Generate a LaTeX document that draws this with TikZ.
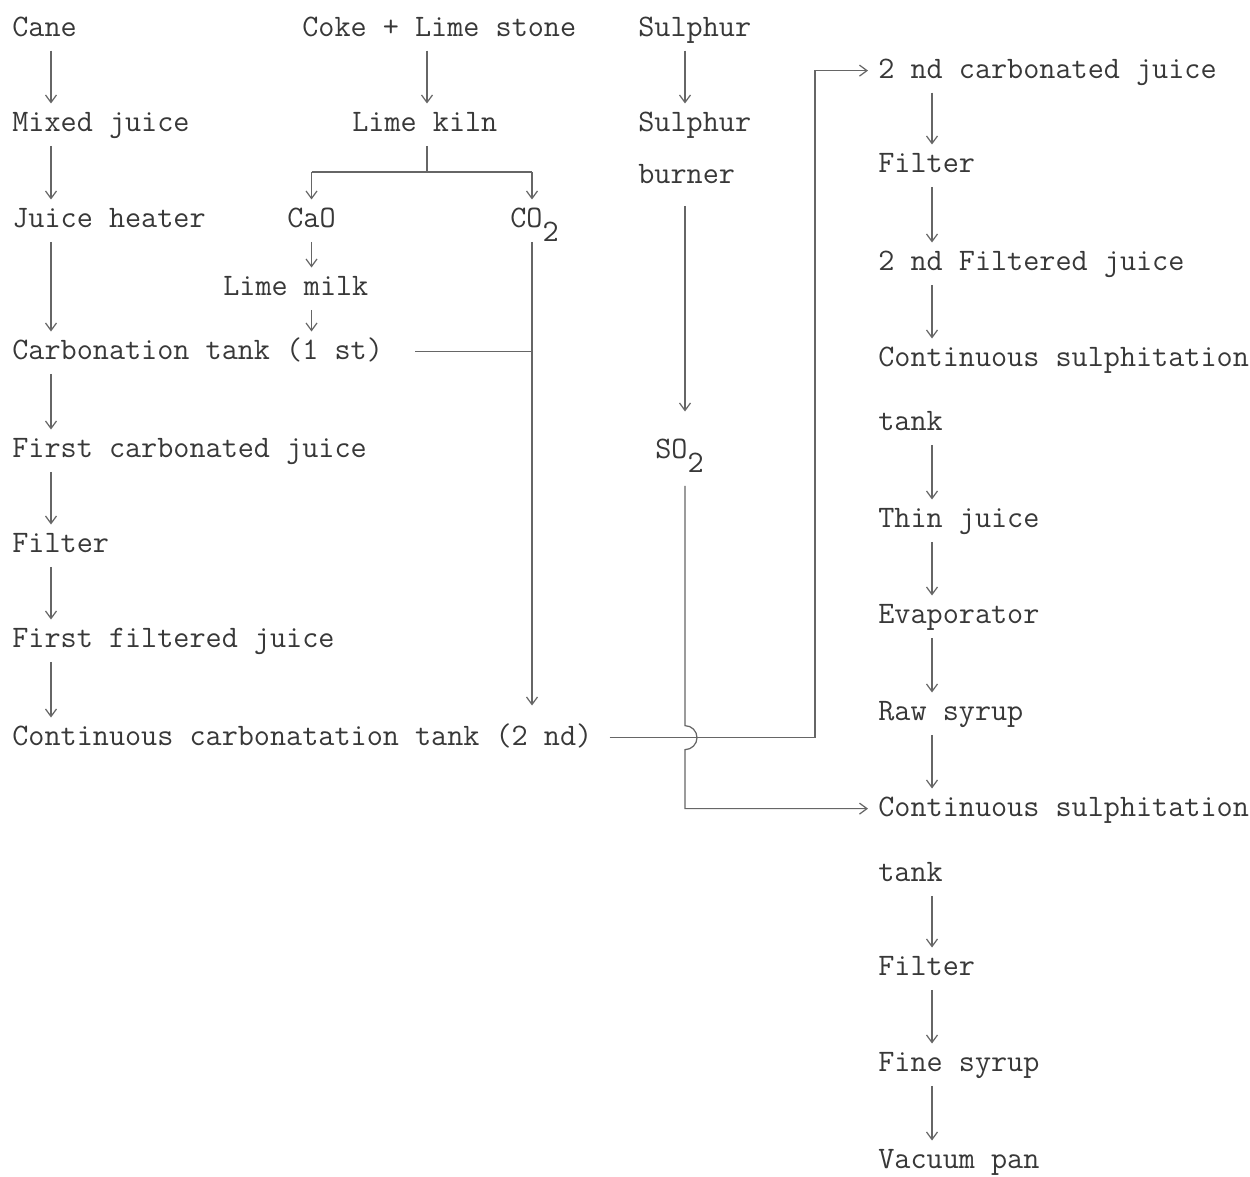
\documentclass[tikz,border=0pt]{standalone}
\usepackage{fontspec}
\usepackage{tikz}
\usetikzlibrary{arrows.meta, calc}

\newcommand{\lowtwo}{\raisebox{-1.1ex}{2}}

\tikzset{
  stage/.style={anchor=base west, inner sep=0pt, text height=10.9pt, text depth=2.5pt,
    font=\ttfamily\fontsize{17.8}{20}\selectfont, text=black!78},
  flow/.style={->, line width=0.7pt, draw=black!60, shorten <=2mm, shorten >=1.6mm},
  link/.style={line width=0.7pt, draw=black!60},
}

\begin{document}
\begin{tikzpicture}[x=0.2mm, y=-0.2mm, >={Straight Barb[length=1.5mm,width=2.2mm]}]
  \useasboundingbox (0,0) rectangle (1250,1176);

  % columns of the arrows
  \coordinate (colA) at (51,0);
  \coordinate (colB) at (427,0);
  \coordinate (colE) at (532,0);
  \coordinate (colC) at (685,0);
  \coordinate (colF) at (815,0);
  \coordinate (colD) at (932,0);

  % Cane line
  \node[stage] (cane) at (12,36) {Cane};
  \node[stage] (mixed) at (12,131) {Mixed juice};
  \node[stage] (heater) at (12,227) {Juice heater};
  \node[stage] (carbI) at (12,359) {Carbonation tank (1 st)};
  \node[stage] (firstcarb) at (12,457) {First carbonated juice};
  \node[stage] (filterI) at (12,552) {Filter};
  \node[stage] (firstfilt) at (12,647) {First filtered juice};
  \node[stage] (carbII) at (12,745) {Continuous carbonatation tank (2 nd)};
  \draw[flow] (cane.south -| colA) -- (mixed.north -| colA);
  \draw[flow] (mixed.south -| colA) -- (heater.north -| colA);
  \draw[flow] (heater.south -| colA) -- (carbI.north -| colA);
  \draw[flow] (carbI.south -| colA) -- (firstcarb.north -| colA);
  \draw[flow] (firstcarb.south -| colA) -- (filterI.north -| colA);
  \draw[flow] (filterI.south -| colA) -- (firstfilt.north -| colA);
  \draw[flow] (firstfilt.south -| colA) -- (carbII.north -| colA);

  % Lime kiln
  \node[stage] (coke) at (302,36) {Coke + Lime stone};
  \node[stage] (kiln) at (352,131) {Lime kiln};
  \coordinate (split) at (427,172);
  \node[stage] (cao) at (287,227) {CaO};
  \node[stage] (co2) at (510,227) {CO\lowtwo};
  \node[stage] (milk) at (223,295) {Lime milk};
  \draw[flow] (coke.south -| colB) -- (kiln.north -| colB);
  \draw[link, shorten <=2mm] (kiln.south -| colB) -- (split);
  \draw[link] (split -| cao) -- (split -| colE);
  \draw[flow, shorten <=0pt] (split -| cao) -- (cao.north);
  \draw[flow, shorten <=0pt] (split -| colE) -- (co2.north -| colE);
  \draw[flow] (cao.south) -- (milk.north -| cao.south);
  \draw[flow] (milk.south -| cao.south) -- (carbI.north -| cao.south);
  \draw[flow, shorten >=4mm] (co2.south -| colE) -- (carbII.north -| colE);
  \draw[link] ([xshift=6.4mm]carbI.east) -- (carbI.east -| colE);

  % Sulphur
  \node[stage] (sulphur) at (638,36) {Sulphur};
  \node[stage] (burner) at (638,131) {Sulphur};
  \node[stage] (burnertwo) at (638,183) {burner};
  \node[stage] (so2) at (655,458) {SO\lowtwo};
  \draw[flow] (sulphur.south -| colC) -- (burner.north -| colC);
  \draw[flow, shorten <=3.6mm, shorten >=5.4mm] (burnertwo.south -| colC) -- (so2.north -| colC);

  % 2 nd juice line
  \node[stage] (juiceII) at (878,78) {2 nd carbonated juice};
  \node[stage] (filterII) at (878,172) {Filter};
  \node[stage] (filtjuice) at (878,270) {2 nd Filtered juice};
  \node[stage] (sulphI) at (878,366) {Continuous sulphitation};
  \node[stage] (sulphItank) at (878,430) {tank};
  \node[stage] (thin) at (878,527) {Thin juice};
  \node[stage] (evap) at (878,623) {Evaporator};
  \node[stage] (raw) at (878,720) {Raw syrup};
  \node[stage] (sulphII) at (878,816) {Continuous sulphitation};
  \node[stage] (sulphIItank) at (878,881) {tank};
  \node[stage] (filterIII) at (878,975) {Filter};
  \node[stage] (fine) at (878,1071) {Fine syrup};
  \node[stage] (vacuum) at (878,1168) {Vacuum pan};
  \draw[flow] (juiceII.south -| colD) -- (filterII.north -| colD);
  \draw[flow] (filterII.south -| colD) -- (filtjuice.north -| colD);
  \draw[flow] (filtjuice.south -| colD) -- (sulphI.north -| colD);
  \draw[flow] (sulphItank.south -| colD) -- (thin.north -| colD);
  \draw[flow] (thin.south -| colD) -- (evap.north -| colD);
  \draw[flow] (evap.south -| colD) -- (raw.north -| colD);
  \draw[flow] (raw.south -| colD) -- (sulphII.north -| colD);
  \draw[flow] (sulphIItank.south -| colD) -- (filterIII.north -| colD);
  \draw[flow] (filterIII.south -| colD) -- (fine.north -| colD);
  \draw[flow] (fine.south -| colD) -- (vacuum.north -| colD);

  % crossing lines
  \draw[flow, shorten <=3.4mm, shorten >=2mm] (carbII.east) -- (carbII.east -| colF)
    -- (colF |- juiceII.west) -- (juiceII.west);
  \coordinate (hop) at (carbII.east -| colC);
  \draw[flow, shorten <=4.6mm, shorten >=2mm] (so2.south -| colC) -- ([yshift=2.4mm]hop)
    arc[start angle=90, end angle=-90, radius=2.4mm] -- (colC |- sulphII.west) -- (sulphII.west);

\end{tikzpicture}
\end{document}
